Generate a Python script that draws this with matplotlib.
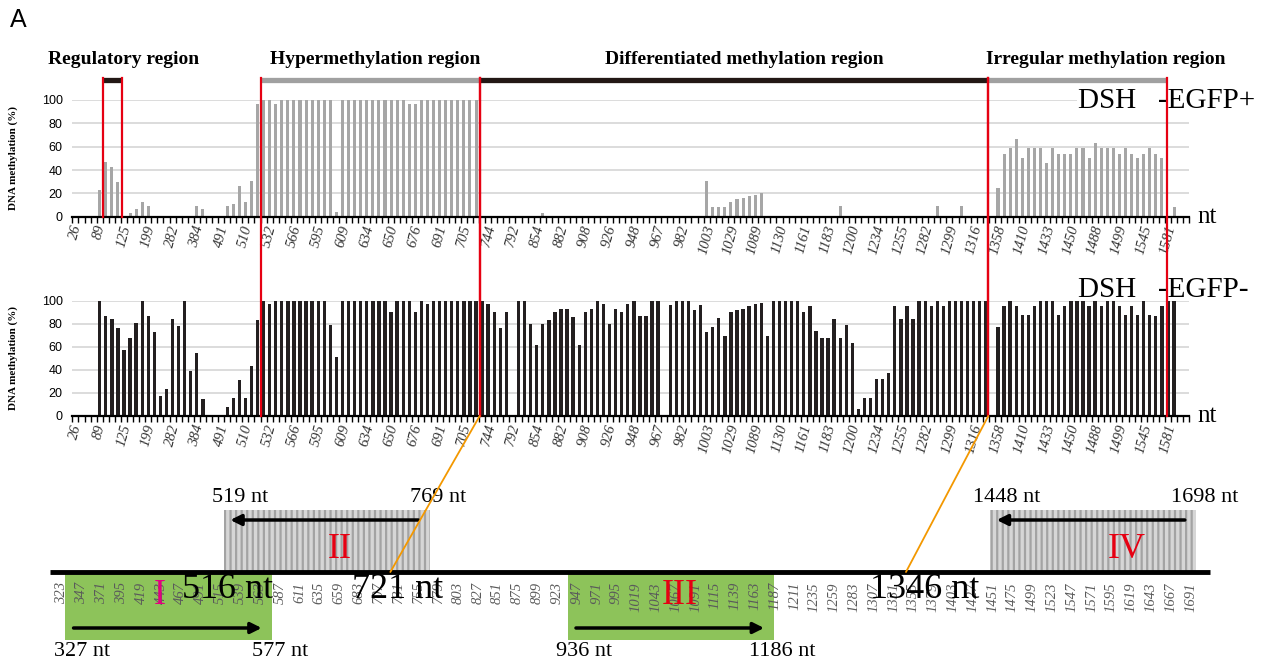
import numpy as np
import matplotlib.pyplot as plt
from matplotlib.lines import Line2D
from matplotlib.patches import Rectangle, ConnectionPatch
from matplotlib.transforms import blended_transform_factory

# methylation (%) per CpG site
egfp_pos = [0, 0, 0, 0, 23, 47, 43, 30, 0, 3, 7, 13, 9, 0, 0, 0, 0, 0, 0, 0,
            9, 7, 0, 0, 0, 9, 11, 26, 13, 31, 97, 100, 100, 97, 100, 100, 100, 100, 100, 100,
            100, 100, 100, 4, 100, 100, 100, 100, 100, 100, 100, 100, 100, 100, 100, 97, 97, 100, 100, 100,
            100, 100, 100, 100, 100, 100, 100, 0, 0, 0, 0, 0, 0, 0, 0, 0, 0, 3, 0, 0,
            0, 0, 0, 0, 0, 0, 0, 0, 0, 0, 0, 0, 0, 0, 0, 0, 0, 0, 0, 0,
            0, 0, 0, 0, 31, 8, 8, 8, 13, 15, 16, 18, 19, 20, 0, 0, 0, 0, 0, 0,
            0, 0, 0, 0, 0, 0, 9, 0, 0, 0, 0, 0, 0, 0, 0, 0, 0, 0, 0, 0,
            0, 0, 9, 0, 0, 0, 9, 0, 0, 0, 0, 0, 25, 54, 59, 67, 50, 59, 59, 59,
            46, 59, 54, 54, 54, 59, 59, 50, 63, 59, 59, 59, 54, 59, 54, 50, 54, 59, 54, 50,
            0, 8, 0, 0]
egfp_neg = [0, 0, 0, 0, 100, 87, 84, 76, 57, 68, 81, 100, 87, 73, 17, 23, 84, 78, 100, 39,
            55, 15, 0, 0, 0, 8, 16, 31, 16, 43, 83, 100, 97, 100, 100, 100, 100, 100, 100, 100,
            100, 100, 79, 51, 100, 100, 100, 100, 100, 100, 100, 100, 90, 100, 100, 100, 90, 100, 97, 100,
            100, 100, 100, 100, 100, 100, 100, 100, 97, 90, 76, 90, 0, 100, 100, 80, 62, 80, 83, 90,
            93, 93, 86, 62, 90, 93, 100, 97, 80, 93, 90, 97, 100, 87, 87, 100, 100, 0, 96, 100,
            100, 100, 92, 96, 73, 77, 85, 69, 90, 92, 93, 95, 97, 98, 69, 100, 100, 100, 100, 100,
            90, 95, 74, 68, 68, 84, 68, 79, 63, 6, 16, 16, 32, 32, 37, 95, 84, 95, 84, 100,
            100, 95, 100, 95, 100, 100, 100, 100, 100, 100, 100, 0, 77, 95, 100, 95, 88, 88, 95, 100,
            100, 100, 88, 95, 100, 100, 100, 95, 100, 95, 100, 100, 95, 88, 95, 88, 100, 88, 87, 95,
            100, 100, 0, 0]
# every 4th site carries a label
site_labels = [26, 89, 125, 199, 282, 384, 491, 510, 532, 566, 595, 609, 634, 650, 676, 691,
               705, 744, 792, 854, 882, 908, 926, 948, 967, 982, 1003, 1029, 1089, 1130, 1161,
               1183, 1200, 1234, 1255, 1282, 1299, 1316, 1358, 1410, 1433, 1450, 1488, 1499,
               1545, 1581]

# regions (edges in site index units)
region_names = ['Regulatory region', 'Hypermethylation region',
                'Differentiated methylation region', 'Irregular methylation region']
region_edges = [(4.6, 7.7), (30.5, 66.6), (66.6, 150.4), (150.4, 179.9)]
region_label_x = [8.0, 49.4, 110.2, 169.8]
region_colors = ['#231815', '#a0a0a0', '#231815', '#a0a0a0']

# amplicons on the schematic (nt)
amp_names = ['I', 'II', 'III', 'IV']
amp_start = [327, 519, 936, 1448]
amp_end = [577, 769, 1186, 1698]
amp_strand = [1, -1, 1, -1]
amp_name_x = [442, 660, 1072, 1614]
amp_name_colors = ['#e4007f', '#e60012', '#e60012', '#e60012']
boundary_nt = [516, 721, 1346]
boundary_site = [30.5, 66.6, 150.4]
schematic_ticks = [323, 347, 371, 395, 419, 443, 467, 491, 515, 539, 563, 587, 611, 635,
                   659, 683, 707, 731, 755, 779, 803, 827, 851, 875, 899, 923, 947, 971,
                   995, 1019, 1043, 1067, 1091, 1115, 1139, 1163, 1187, 1211, 1235, 1259,
                   1283, 1307, 1331, 1355, 1379, 1403, 1427, 1451, 1475, 1499, 1523, 1547,
                   1571, 1595, 1619, 1643, 1667, 1691]
schematic_span = (308, 1715)

W, H = 1277, 666
SERIF = 'Liberation Serif'
SANS = 'Liberation Sans'
RED = '#e60012'
plt.rcParams['hatch.linewidth'] = 1.6


def fx(p):
    return p / W


def fy(p):
    return 1 - p / H


fig = plt.figure(figsize=(W / 100, H / 100), dpi=100)
ax_top = fig.add_axes([fx(72.4), fy(216.7), fx(1116.8), 116.7 / H])
ax_bot = fig.add_axes([fx(72.4), fy(416), fx(1116.8), 115.3 / H])


def bar_panel(ax, vals, color, width):
    x = np.arange(len(vals))
    ax.bar(x, vals, width=width, color=color, zorder=2)
    ax.set_xlim(-0.5, len(vals) - 0.5)
    ax.set_ylim(0, 100)
    ax.set_yticks(range(0, 101, 20))
    ax.yaxis.grid(True, color='#d9d9d9', lw=1.3)
    ax.set_axisbelow(True)
    for s in ['top', 'right', 'left']:
        ax.spines[s].set_visible(False)
    ax.spines['bottom'].set_linewidth(1.6)
    ax.spines['bottom'].set_zorder(3)
    ax.set_xticks(x[::4])
    ax.set_xticklabels(site_labels, rotation=75, fontstyle='italic', family=SERIF,
                       fontsize=10.5, color='#333333')
    ax.set_xticks(np.arange(-0.5, len(vals), 1), minor=True)
    ax.tick_params(axis='x', which='major', length=0, pad=5)
    ax.tick_params(axis='x', which='minor', length=4, width=1)
    ax.tick_params(axis='y', length=0, labelsize=9, pad=7)
    for t in ax.get_yticklabels():
        t.set_family(SANS)
    ax.set_ylabel('DNA methylation (%)', family=SERIF, fontweight='bold', fontsize=8)
    ax.yaxis.set_label_coords(-54 / 1116.8, 0.5)


bar_panel(ax_top, egfp_pos, '#a6a6a6', 0.5)
bar_panel(ax_bot, egfp_neg, '#231f20', 0.55)

for ax in (ax_top, ax_bot):
    ax.text(1.007, 0.0, 'nt', transform=ax.transAxes, family=SERIF, fontsize=18,
            va='center', ha='left')

fig.text(fx(1078), fy(101), 'DSH   -EGFP+', family=SERIF, fontsize=21, va='center',
         ha='left', bbox=dict(facecolor='white', edgecolor='none', pad=1), zorder=4)
fig.text(fx(1078), fy(290), 'DSH   -EGFP-', family=SERIF, fontsize=21, va='center',
         ha='left', zorder=4)

# red region boundaries and region bars
tr = blended_transform_factory(ax_top.transData, fig.transFigure)
for i, (a, b) in enumerate(region_edges):
    bottom = fy(217) if i == 0 else fy(416)
    for e in (a, b):
        fig.add_artist(Line2D([e, e], [fy(78), bottom], transform=tr, color=RED,
                              lw=1.6, zorder=6))
    fig.add_artist(Line2D([a, b], [fy(79.5), fy(79.5)], transform=tr,
                          color=region_colors[i], lw=3.8, zorder=5,
                          solid_capstyle='butt'))
    fig.text(region_label_x[i], fy(59), region_names[i], transform=tr, family=SERIF,
             fontweight='bold', fontsize=14, ha='center', va='center')

fig.text(fx(10), fy(20), 'A', family=SANS, fontsize=18, va='center', ha='left')

# schematic of amplicons
ax_s = fig.add_axes([0, 0, 1, 196 / H])
ax_s.set_xlim(323 - 62 / 0.825, 323 + (W - 62) / 0.825)
ax_s.set_ylim(666, 470)
ax_s.axis('off')

ax_s.plot(schematic_span, [572, 572], color='black', lw=3.5, solid_capstyle='butt',
          zorder=3)
for k in range(len(amp_names)):
    s, e = amp_start[k], amp_end[k]
    if amp_strand[k] > 0:
        ax_s.add_patch(Rectangle((s, 572), e - s, 68, facecolor='#8dc35a',
                                 edgecolor='none', zorder=1))
        ay, ly = 628, 652
        ax_s.annotate('', xy=(e - 12, ay), xytext=(s + 10, ay),
                      arrowprops=dict(arrowstyle='-|>', color='black', lw=2.5,
                                      mutation_scale=16, shrinkA=0, shrinkB=0),
                      zorder=4)
        name_y = 595
    else:
        ax_s.add_patch(Rectangle((s, 510), e - s, 62, facecolor='#d6d6d6',
                                 edgecolor='#a3a3a3', hatch='|||', lw=0, zorder=1))
        ay, ly = 520, 497
        ax_s.annotate('', xy=(s + 8, ay), xytext=(e - 14, ay),
                      arrowprops=dict(arrowstyle='-|>', color='black', lw=2.5,
                                      mutation_scale=16, shrinkA=0, shrinkB=0),
                      zorder=4)
        name_y = 549
    ax_s.text(s + 20, ly, f'{s} nt', family=SERIF, fontsize=16, ha='center',
              va='center', zorder=5)
    ax_s.text(e + 10, ly, f'{e} nt', family=SERIF, fontsize=16, ha='center',
              va='center', zorder=5)
    ax_s.text(amp_name_x[k], name_y, amp_names[k], family=SERIF, fontsize=26,
              color=amp_name_colors[k], ha='center', va='center', zorder=5)

for t in schematic_ticks:
    ax_s.text(t, 582, str(t), rotation=90, va='top', ha='center', family=SERIF,
              fontstyle='italic', fontsize=10.5, color='#5a5a5a', zorder=3)

for nt, off in zip(boundary_nt, [8, 9, 23]):
    ax_s.text(nt + off, 590, f'{nt} nt', family=SERIF, fontsize=26, ha='center',
              va='center', zorder=6)

for site, nt in zip(boundary_site[1:], boundary_nt[1:]):
    con = ConnectionPatch(xyA=(site, 0), coordsA=ax_bot.transData, xyB=(nt, 572),
                          coordsB=ax_s.transData, color='#f39800', lw=1.3, zorder=7)
    fig.add_artist(con)

fig.savefig('out.png', dpi=100)
